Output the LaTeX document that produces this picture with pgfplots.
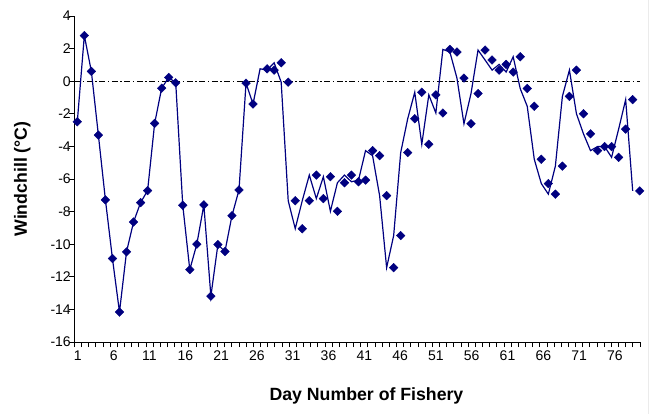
\documentclass[border=0pt]{standalone}
\usepackage{fontspec}
\setmainfont{Liberation Sans}
\usepackage{pgfplots}
\pgfplotsset{compat=1.18}
\definecolor{navy}{HTML}{000080}

\pgfplotsset{
  plotbox/.style={
    at={(0pt,0pt)}, anchor=south west,
    scale only axis, width=565.7pt, height=326pt,
    ymin=-16, ymax=4,
  },
}

\begin{document}
\begin{tikzpicture}
\useasboundingbox (-74.3pt,-72pt) rectangle (580.7pt,342pt);
% faint frame edge on the right
\draw[line width=0.8pt, color=black!8] (573.7pt,-72pt) -- (573.7pt,342pt);

% category axis: 79 day slots, labelled every fifth day
\begin{axis}[
  plotbox,
  xmin=0.5, xmax=79.5,
  axis x line*=bottom, axis y line*=left,
  axis line style={black, line width=0.9pt},
  xtick={1,6,11,16,21,26,31,36,41,46,51,56,61,66,71,76},
  xticklabels={1,6,11,16,21,26,31,36,41,46,51,56,61,66,71,76},
  major x tick style={draw=none},
  minor xtick={0.5,1.5,...,79.5},
  ytick={-16,-14,-12,-10,-8,-6,-4,-2,0,2,4},
  yticklabels={-16,-14,-12,-10,-8,-6,-4,-2,0,2,4},
  tick align=outside,
  major tick length=5pt, minor tick length=5pt,
  tick style={black, line width=0.8pt},
  ticklabel style={font=\fontsize{14}{14}\selectfont},
  yticklabel style={xshift=5pt},
  xlabel={Day Number of Fishery},
  ylabel={Windchill (°C)},
  xlabel style={font=\bfseries\fontsize{17.7}{17.7}\selectfont,
    at={(axis description cs:0.5165,0)}, anchor=base, yshift=-59pt},
  ylabel style={font=\bfseries\fontsize{17.7}{17.7}\selectfont,
    at={(axis description cs:-0.0919,0.5)}, anchor=center},
]
% zero reference line
\addplot[black, line width=0.9pt,
  dash pattern=on 6pt off 2.5pt on 1.5pt off 2.5pt]
  coordinates {(0.5,0) (79.5,0)};
\end{axis}

% windchill data by fishery day
\begin{axis}[
  plotbox,
  xmin=0.573, xmax=81.04,
  hide axis, clip=false,
]
% daily windchill, joined
\addplot[navy, line width=1.2pt] coordinates {
(1,-2.49) (2,2.80) (3,0.60) (4,-3.31) (5,-7.28) (6,-10.88) (7,-14.16)
(8,-10.47) (9,-8.64) (10,-7.45) (11,-6.71) (12,-2.59) (13,-0.43)
(14,0.23) (15,-0.10) (16,-7.61) (17,-11.56) (18,-10.00) (19,-7.59)
(20,-13.19) (21,-10.02) (22,-10.45) (23,-8.25) (24,-6.67) (25,-0.12)
(26,-1.40) (27,0.76) (28,0.68) (29,1.13) (30,-0.06) (31,-7.33)
(32,-9.05) (33,-7.33) (34,-5.76) (35,-7.20) (36,-5.86) (37,-7.98)
(38,-6.23) (39,-5.76) (40,-6.17) (41,-6.07) (42,-4.26) (43,-4.57)
(44,-7.02) (45,-11.44) (46,-9.47) (47,-4.38) (48,-2.30) (49,-0.68)
(50,-3.87) (51,-0.84) (52,-1.95) (53,1.95) (54,1.79) (55,0.19)
(56,-2.61) (57,-0.76) (58,1.91) (59,1.30) (60,0.68) (61,1.03)
(62,0.56) (63,1.50) (64,-0.45) (65,-1.54) (66,-4.79) (67,-6.28)
(68,-6.93) (69,-5.21) (70,-0.93) (71,0.68) (72,-2.00) (73,-3.23)
(74,-4.26) (75,-4.01) (76,-4.01) (77,-4.67) (78,-2.94) (79,-1.13)
(80,-6.73)
};

% daily windchill by fishery day
\addplot[only marks, mark=square*, mark size=3.05pt, color=navy,
  mark options={rotate=45, fill=navy, draw=navy}] coordinates {
(1,-2.49) (2,2.80) (3,0.60) (4,-3.31) (5,-7.28) (6,-10.88) (7,-14.16)
(8,-10.47) (9,-8.64) (10,-7.45) (11,-6.71) (12,-2.59) (13,-0.43)
(14,0.23) (15,-0.10) (16,-7.61) (17,-11.56) (18,-10.00) (19,-7.59)
(20,-13.19) (21,-10.02) (22,-10.45) (23,-8.25) (24,-6.67) (25,-0.12)
(26,-1.40) (28,0.76) (29,0.68) (30,1.13) (31,-0.06) (32,-7.33)
(33,-9.05) (34,-7.33) (35,-5.76) (36,-7.20) (37,-5.86) (38,-7.98)
(39,-6.23) (40,-5.76) (41,-6.17) (42,-6.07) (43,-4.26) (44,-4.57)
(45,-7.02) (46,-11.44) (47,-9.47) (48,-4.38) (49,-2.30) (50,-0.68)
(51,-3.87) (52,-0.84) (53,-1.95) (54,1.95) (55,1.79) (56,0.19)
(57,-2.61) (58,-0.76) (59,1.91) (60,1.30) (61,0.68) (62,1.03)
(63,0.56) (64,1.50) (65,-0.45) (66,-1.54) (67,-4.79) (68,-6.28)
(69,-6.93) (70,-5.21) (71,-0.93) (72,0.68) (73,-2.00) (74,-3.23)
(75,-4.26) (76,-4.01) (77,-4.01) (78,-4.67) (79,-2.94) (80,-1.13)
(81,-6.73)
};
\end{axis}
\end{tikzpicture}
\end{document}
